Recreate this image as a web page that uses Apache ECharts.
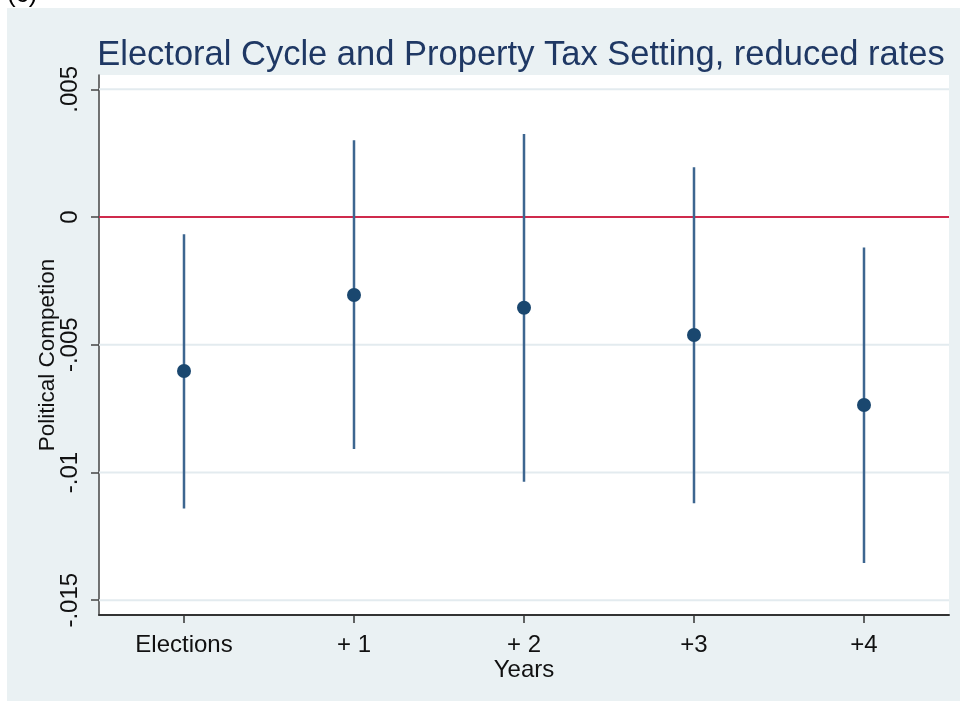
<!DOCTYPE html>
<html>
<head>
<meta charset="utf-8">
<script src="https://cdn.jsdelivr.net/npm/echarts@6/dist/echarts.min.js"></script>
<style>
html,body{margin:0;padding:0;background:#fff;}
#wrap{position:relative;width:960px;height:701px;background:#fff;overflow:hidden;}
#bg{position:absolute;left:7px;top:8px;width:953px;height:693px;background:#eaf1f3;}
#chart{position:absolute;left:0;top:0;width:960px;height:701px;}
</style>
</head>
<body>
<div id="wrap"><div id="bg"></div><div id="chart"></div></div>
<script>
// Data
var categories = ['Elections', '+ 1', '+ 2', '+3', '+4'];
var estimates = [-0.00603, -0.00305, -0.00355, -0.00462, -0.00736];
var ciUpper = [-0.00067, 0.00301, 0.00325, 0.00195, -0.00119];
var ciLower = [-0.01141, -0.00908, -0.01036, -0.01121, -0.01354];
var yTickValues = [-0.015, -0.01, -0.005, 0, 0.005];
var yTickLabels = ['-.015', '-.01', '-.005', '0', '.005'];

var FONT = '"Liberation Sans", Arial, sans-serif';
var chart = echarts.init(document.getElementById('chart'));

var ciData = categories.map(function (c, i) { return [i, ciLower[i], ciUpper[i]]; });

function fmtY(v) {
  for (var i = 0; i < yTickValues.length; i++) {
    if (Math.abs(v - yTickValues[i]) < 1e-9) return yTickLabels[i];
  }
  return '';
}

var option = {
  animation: false,
  backgroundColor: 'transparent',
  textStyle: { fontFamily: FONT },
  graphic: [
    { type: 'text', left: 7, top: -18, style: { text: '(c)', font: '26px ' + FONT, fill: '#000' } }
  ],
  title: {
    text: 'Electoral Cycle and Property Tax Setting, reduced rates',
    left: 516, top: 33, textAlign: 'center',
    textStyle: { fontFamily: FONT, fontSize: 34.5, fontWeight: 'normal', color: '#1f3864' }
  },
  grid: {
    left: 99, right: 11, top: 75, bottom: 86,
    show: true, backgroundColor: '#ffffff', borderWidth: 0
  },
  xAxis: {
    type: 'category',
    data: categories,
    boundaryGap: true,
    name: 'Years',
    nameLocation: 'middle',
    nameGap: 43,
    nameMoveOverlap: false,
    nameTextStyle: { fontFamily: FONT, fontSize: 24, color: '#111' },
    axisLine: { onZero: false, lineStyle: { color: '#333', width: 2 } },
    axisTick: { show: true, alignWithLabel: true, length: 8, lineStyle: { color: '#333', width: 1.5 } },
    axisLabel: { fontFamily: FONT, fontSize: 24, color: '#111', margin: 18 },
    splitLine: { show: false }
  },
  yAxis: {
    type: 'value',
    min: -0.01558,
    max: 0.00556,
    name: 'Political Competion',
    nameLocation: 'middle',
    nameRotate: 90,
    nameGap: 40,
    nameMoveOverlap: false,
    nameTextStyle: { fontFamily: FONT, fontSize: 22.5, color: '#111', padding: [0, 20, 0, 0] },
    axisLine: { show: true, lineStyle: { color: '#444', width: 1.5 } },
    axisTick: { show: true, length: 8, customValues: yTickValues, lineStyle: { color: '#444', width: 1.5 } },
    axisLabel: {
      rotate: 90, fontFamily: FONT, fontSize: 24, color: '#111', margin: 17,
      customValues: yTickValues,
      formatter: fmtY
    },
    splitLine: { show: false }
  },
  series: [
    {
      // horizontal grid lines at the y tick values (zero drawn in red)
      type: 'custom',
      z: 2,
      silent: true,
      data: yTickValues.map(function (v) { return [0, v]; }),
      renderItem: function (params, api) {
        var v = api.value(1);
        var p = api.coord([0, v]);
        var cs = params.coordSys;
        var isZero = Math.abs(v) < 1e-12;
        return {
          type: 'line',
          z2: isZero ? 10 : 0,
          shape: { x1: cs.x, y1: p[1], x2: cs.x + cs.width, y2: p[1] },
          style: { stroke: isZero ? '#cf2a4c' : '#e3ebef', lineWidth: 2 }
        };
      }
    },
    {
      type: 'custom',
      z: 4,
      data: ciData,
      renderItem: function (params, api) {
        var top = api.coord([api.value(0), api.value(2)]);
        var bot = api.coord([api.value(0), api.value(1)]);
        return {
          type: 'line',
          shape: { x1: top[0], y1: top[1], x2: bot[0], y2: bot[1] },
          style: { stroke: '#3d6690', lineWidth: 2.5 }
        };
      }
    },
    {
      type: 'scatter',
      z: 5,
      data: estimates.map(function (v, i) { return [i, v]; }),
      symbol: 'circle',
      symbolSize: 14,
      itemStyle: { color: '#1a476f', opacity: 1 }
    }
  ]
};
chart.setOption(option);
</script>
</body>
</html>
